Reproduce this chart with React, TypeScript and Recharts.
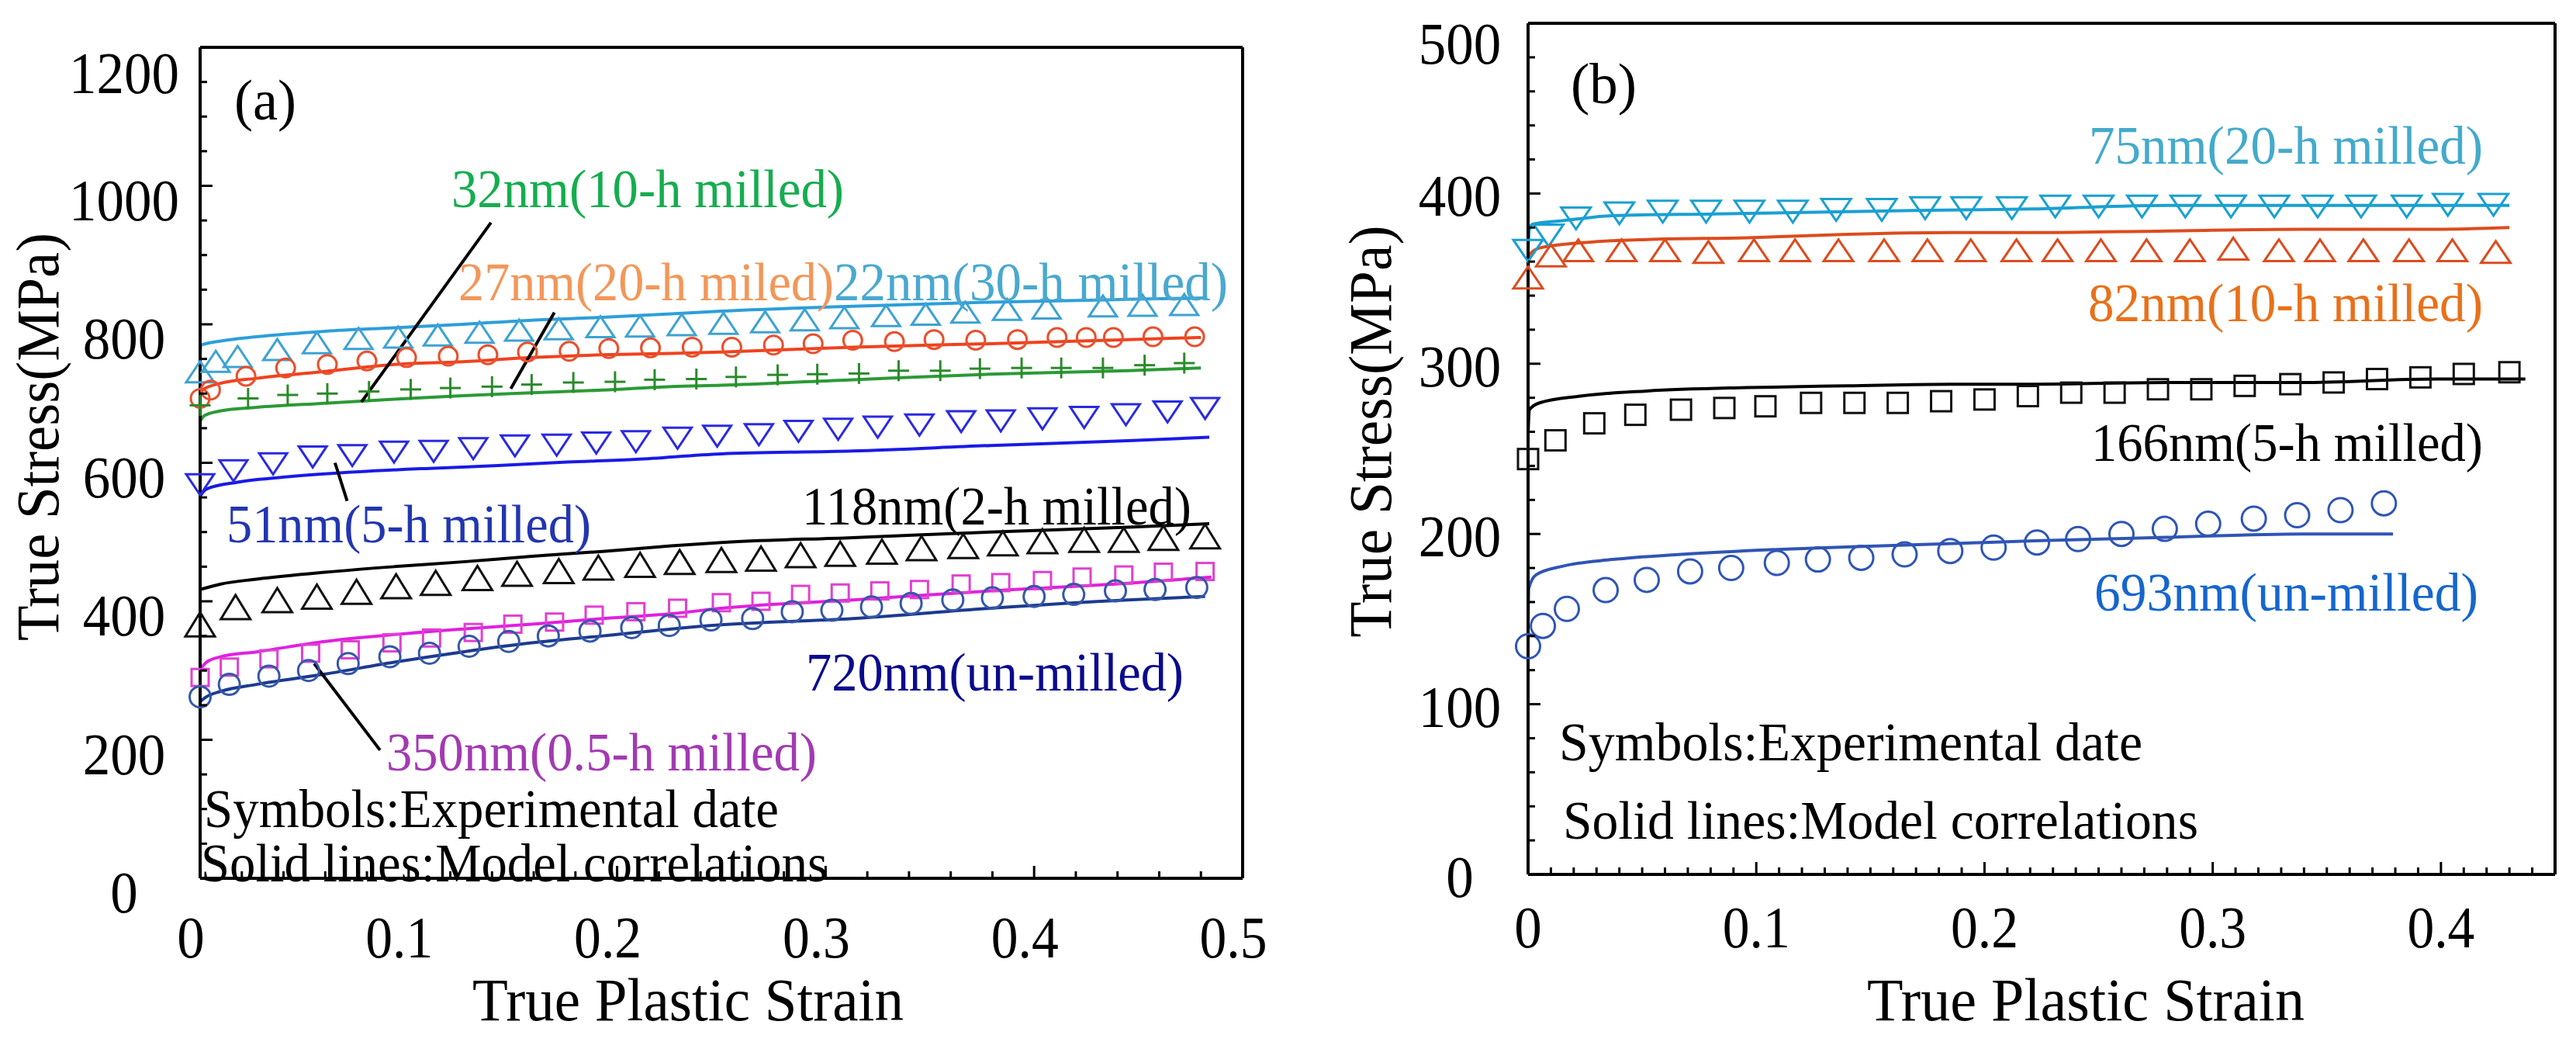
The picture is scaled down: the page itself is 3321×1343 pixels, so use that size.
import React from "react";
import { ComposedChart, Line, Scatter, XAxis, YAxis, ReferenceLine } from "recharts";

type Pt = [number, number];

// ---- panel (a): strain, stress(MPa) ----
const A22_EXP: Pt[] = [[0,730],[0.0075,745],[0.018,752],[0.037,762],[0.056,772],[0.076,778],[0.095,780],[0.114,783],[0.134,787],[0.153,790],[0.172,792],[0.192,795],[0.211,796],[0.231,798],[0.251,800],[0.271,802],[0.29,805],[0.309,808],[0.329,811],[0.348,813],[0.367,816],[0.387,820],[0.406,822],[0.433,825],[0.452,826],[0.472,827]];
const A22_FIT: Pt[] = [[0,760],[0.0005,770],[0.01,776],[0.027,782],[0.06,790],[0.093,795],[0.126,800],[0.159,806],[0.193,810],[0.226,815],[0.25,819],[0.313,826],[0.379,832],[0.445,836],[0.483,838]];
const A27_EXP: Pt[] = [[0,693],[0.005,705],[0.022,725],[0.041,737],[0.061,742],[0.08,747],[0.099,752],[0.119,754],[0.138,756],[0.157,760],[0.177,761],[0.196,765],[0.216,766],[0.236,767],[0.255,767],[0.275,770],[0.294,772],[0.313,777],[0.333,775],[0.352,778],[0.372,777],[0.392,778],[0.411,781],[0.425,781],[0.438,781],[0.457,782],[0.477,782]];
const A27_FIT: Pt[] = [[0,695],[0.001,705],[0.01,715],[0.027,722],[0.06,732],[0.093,742],[0.126,746],[0.159,752],[0.193,756],[0.226,758],[0.25,760],[0.313,767],[0.379,772],[0.445,778],[0.48,781]];
const A32_EXP: Pt[] = [[0,683],[0.023,693],[0.042,698],[0.061,700],[0.081,703],[0.101,706],[0.12,708],[0.14,710],[0.159,713],[0.179,716],[0.199,717],[0.218,720],[0.238,721],[0.257,724],[0.277,727],[0.296,728],[0.316,729],[0.335,733],[0.355,733],[0.374,736],[0.394,737],[0.413,737],[0.433,737],[0.453,741],[0.472,744]];
const A32_FIT: Pt[] = [[0,660],[0.002,668],[0.01,675],[0.027,680],[0.06,686],[0.093,692],[0.126,697],[0.159,701],[0.193,705],[0.226,710],[0.25,712],[0.313,720],[0.379,728],[0.445,733],[0.48,737]];
const A51_EXP: Pt[] = [[0,570],[0.016,590],[0.035,600],[0.054,610],[0.073,612],[0.093,617],[0.112,618],[0.131,622],[0.151,626],[0.171,627],[0.19,630],[0.209,632],[0.229,637],[0.248,640],[0.268,642],[0.287,647],[0.306,650],[0.325,653],[0.345,656],[0.365,661],[0.384,662],[0.404,665],[0.424,667],[0.444,671],[0.464,675],[0.482,680]];
const A51_FIT: Pt[] = [[0,552],[0.003,562],[0.018,572],[0.043,580],[0.076,587],[0.11,592],[0.143,596],[0.176,601],[0.209,605],[0.25,613],[0.313,617],[0.379,625],[0.445,632],[0.484,637]];
const A118_EXP: Pt[] = [[0,365],[0.017,390],[0.037,400],[0.056,405],[0.075,412],[0.094,420],[0.113,425],[0.133,432],[0.152,438],[0.172,442],[0.191,447],[0.211,451],[0.23,455],[0.25,458],[0.269,460],[0.288,465],[0.307,467],[0.327,470],[0.346,475],[0.366,478],[0.385,482],[0.404,485],[0.424,487],[0.443,487],[0.462,490],[0.482,492]];
const A118_FIT: Pt[] = [[0,417],[0.01,425],[0.027,432],[0.06,442],[0.093,450],[0.126,457],[0.159,465],[0.193,472],[0.226,480],[0.25,485],[0.313,492],[0.379,500],[0.445,507],[0.484,512]];
const A350_EXP: Pt[] = [[0,290],[0.014,305],[0.033,317],[0.053,325],[0.072,330],[0.092,340],[0.111,347],[0.131,355],[0.15,367],[0.17,370],[0.189,380],[0.209,385],[0.229,390],[0.25,398],[0.269,400],[0.288,410],[0.307,412],[0.326,415],[0.345,417],[0.365,425],[0.384,427],[0.404,430],[0.423,435],[0.443,438],[0.462,442],[0.482,443]];
const A350_FIT: Pt[] = [[0,302],[0.003,312],[0.01,320],[0.027,327],[0.06,342],[0.093,352],[0.126,360],[0.159,367],[0.193,375],[0.226,382],[0.25,390],[0.313,402],[0.379,415],[0.445,426],[0.485,435]];
const A720_EXP: Pt[] = [[0,262],[0.014,280],[0.033,292],[0.052,300],[0.071,310],[0.091,320],[0.11,325],[0.129,335],[0.148,342],[0.167,350],[0.187,357],[0.207,362],[0.225,365],[0.245,373],[0.265,375],[0.284,385],[0.303,387],[0.322,392],[0.341,397],[0.361,402],[0.38,405],[0.4,407],[0.419,410],[0.439,415],[0.458,417],[0.478,420]];
const A720_FIT: Pt[] = [[0,255],[0.003,262],[0.01,270],[0.027,280],[0.06,295],[0.093,312],[0.126,327],[0.159,340],[0.193,350],[0.226,360],[0.25,366],[0.313,375],[0.379,390],[0.445,402],[0.482,407]];

// ---- panel (b) ----
const B75_EXP: Pt[] = [[0,367],[0.009,376],[0.021,386],[0.04,389],[0.059,390],[0.078,390],[0.097,390],[0.116,390],[0.135,391],[0.155,391],[0.174,392],[0.192,392],[0.212,392],[0.231,393],[0.25,393],[0.269,393],[0.288,393],[0.308,393],[0.327,393],[0.346,393],[0.365,393],[0.385,393],[0.403,394],[0.423,394]];
const B75_FIT: Pt[] = [[0,367],[0.0006,379],[0.002,382],[0.015,384],[0.037,387],[0.082,388],[0.126,389],[0.17,390],[0.222,391],[0.28,393],[0.339,393],[0.398,393],[0.43,393]];
const B82_EXP: Pt[] = [[0,350],[0.01,363],[0.022,366],[0.041,366],[0.06,366],[0.079,365],[0.099,366],[0.117,366],[0.136,366],[0.156,366],[0.175,366],[0.194,366],[0.214,366],[0.232,366],[0.251,366],[0.271,366],[0.29,366],[0.309,367],[0.329,366],[0.347,366],[0.366,366],[0.386,366],[0.405,366],[0.424,365]];
const B82_FIT: Pt[] = [[0,356],[0.0006,364],[0.005,368],[0.023,371],[0.052,373],[0.096,374],[0.14,376],[0.185,377],[0.222,377],[0.28,378],[0.339,379],[0.398,379],[0.43,380]];
const B166_EXP: Pt[] = [[0,244],[0.012,255],[0.029,265],[0.047,270],[0.067,273],[0.086,274],[0.104,275],[0.124,277],[0.143,277],[0.162,277],[0.181,278],[0.2,279],[0.219,281],[0.238,283],[0.257,283],[0.276,285],[0.295,285],[0.314,287],[0.334,288],[0.353,289],[0.372,291],[0.391,292],[0.41,294],[0.43,295]];
const B166_FIT: Pt[] = [[0,259],[0.0006,273],[0.005,277],[0.023,281],[0.052,284],[0.096,286],[0.14,287],[0.185,288],[0.222,288],[0.28,289],[0.339,289],[0.398,291],[0.437,291]];
const B693_EXP: Pt[] = [[0,134],[0.0065,146],[0.017,156],[0.034,167],[0.052,173],[0.071,178],[0.089,180],[0.109,183],[0.127,185],[0.146,186],[0.165,188],[0.185,190],[0.204,192],[0.223,195],[0.241,197],[0.26,200],[0.279,203],[0.298,206],[0.318,209],[0.337,211],[0.356,214],[0.375,218]];
const B693_FIT: Pt[] = [[0,145],[0.0003,168],[0.0035,176],[0.015,181],[0.037,185],[0.067,188],[0.111,191],[0.155,193],[0.2,195],[0.222,196],[0.28,198],[0.339,200],[0.379,200]];

// axis ticks
const A_X_MAJOR = [0, 0.1, 0.2, 0.3, 0.4, 0.5];
const A_Y_MAJOR = [0, 200, 400, 600, 800, 1000, 1200];
const B_X_MAJOR = [0, 0.1, 0.2, 0.3, 0.4];
const B_Y_MAJOR = [0, 100, 200, 300, 400, 500];

const steps = (from: number, to: number, step: number) => {
  const out: number[] = [];
  for (let i = 0; from + i * step <= to + 1e-9; i++) out.push(Math.round((from + i * step) * 1e6) / 1e6);
  return out;
};
const A_X_TICKS = steps(0, 0.5, 0.02);
const A_Y_TICKS = steps(0, 1200, 50);
const B_X_TICKS = steps(0, 0.45, 0.01);
const B_Y_TICKS = steps(0, 500, 20);

const FONT = "'Liberation Serif', 'Times New Roman', serif";

type Kind = "up" | "down" | "circle" | "square" | "plus";
interface Series {
  exp: Pt[];
  fit: Pt[];
  line: string;
  mark: string;
  kind: Kind;
  w: number;
  h: number;
}

const SERIES_A: Series[] = [
  { exp: A22_EXP, fit: A22_FIT, line: "#2c9fda", mark: "#3da2d2", kind: "up", w: 36, h: 27 },
  { exp: A27_EXP, fit: A27_FIT, line: "#f0421e", mark: "#e8502e", kind: "circle", w: 24, h: 24 },
  { exp: A32_EXP, fit: A32_FIT, line: "#2b9a36", mark: "#2b8a2b", kind: "plus", w: 27, h: 27 },
  { exp: A51_EXP, fit: A51_FIT, line: "#1a1ae6", mark: "#2a2ae0", kind: "down", w: 36, h: 27 },
  { exp: A118_EXP, fit: A118_FIT, line: "#000000", mark: "#111111", kind: "up", w: 38, h: 31 },
  { exp: A350_EXP, fit: A350_FIT, line: "#e020e0", mark: "#e040d0", kind: "square", w: 22, h: 22 },
  { exp: A720_EXP, fit: A720_FIT, line: "#1c3a8f", mark: "#3557a8", kind: "circle", w: 27, h: 27 },
];

const SERIES_B: Series[] = [
  { exp: B75_EXP, fit: B75_FIT, line: "#1aa0d2", mark: "#1aa0d2", kind: "down", w: 38, h: 28 },
  { exp: B82_EXP, fit: B82_FIT, line: "#dc4c1e", mark: "#dc4c1e", kind: "up", w: 38, h: 28 },
  { exp: B166_EXP, fit: B166_FIT, line: "#000000", mark: "#111111", kind: "square", w: 26, h: 26 },
  { exp: B693_EXP, fit: B693_FIT, line: "#2f55b5", mark: "#2f55b5", kind: "circle", w: 31, h: 31 },
];

const toXY = (pts: Pt[]) => pts.map(([x, y]) => ({ x, y }));

function Marker({ cx, cy, kind, color, w, h }: { cx: number; cy: number; kind: Kind; color: string; w: number; h: number }) {
  const p = { fill: "none", stroke: color, strokeWidth: 3 };
  const hw = w / 2;
  if (kind === "up")
    return <polygon {...p} points={`${cx},${cy - h * 0.55} ${cx - hw},${cy + h * 0.45} ${cx + hw},${cy + h * 0.45}`} />;
  if (kind === "down")
    return <polygon {...p} points={`${cx},${cy + h * 0.55} ${cx - hw},${cy - h * 0.45} ${cx + hw},${cy - h * 0.45}`} />;
  if (kind === "circle") return <circle {...p} cx={cx} cy={cy} r={hw} />;
  if (kind === "square") return <rect {...p} x={cx - hw} y={cy - h / 2} width={w} height={h} />;
  return (
    <g {...p}>
      <line x1={cx - hw} y1={cy} x2={cx + hw} y2={cy} />
      <line x1={cx} y1={cy - hw} x2={cx} y2={cy + hw} />
    </g>
  );
}

const labelWidth = (s: string) => s.split("").reduce((t, c) => t + (c === "." ? 16 : 35.5), 0);

type Side = "left" | "right" | "top" | "bottom";
function axisTick(
  side: Side,
  majors: number[],
  labels: boolean,
  dx: number,
  dy: number,
  fmt: (v: number) => string,
  topDy = dy,
) {
  const topValue = majors[majors.length - 1];
  return (props: any) => {
    const { x, y, payload } = props;
    const v = payload.value as number;
    const major = majors.some((m) => Math.abs(m - v) < 1e-6);
    const len = major ? 16 : 9;
    const x2 = side === "left" ? x + len : side === "right" ? x - len : x;
    const y2 = side === "top" ? y + len : side === "bottom" ? y - len : y;
    const text = fmt(v);
    const ly = y + (side === "left" && Math.abs(v - topValue) < 1e-6 ? topDy : dy);
    return (
      <g>
        <line x1={x} y1={y} x2={x2} y2={y2} stroke="#000" strokeWidth={3} />
        {labels && major && (
          <text
            x={x + dx}
            y={ly}
            textAnchor="middle"
            dominantBaseline="central"
            fontSize={77}
            fontFamily={FONT}
            fill="#000"
            textLength={labelWidth(text)}
            lengthAdjust="spacingAndGlyphs"
          >
            {text}
          </text>
        )}
      </g>
    );
  };
}

const fmtX = (v: number) => (v === 0 ? "0" : v.toFixed(1));
const fmtY = (v: number) => String(v);
const none = () => "";

interface PanelProps {
  series: Series[];
  width: number;
  height: number;
  plot: { left: number; right: number; top: number; bottom: number };
  xDomain: [number, number];
  yDomain: [number, number];
  xTicks: number[];
  yTicks: number[];
  xMajor: number[];
  yMajor: number[];
  xLabel: [number, number];
  yLabel: [number, number, number];
  pointers: { from: Pt; to: Pt }[];
}

function Panel(p: PanelProps) {
  const axisLine = { stroke: "#000", strokeWidth: 4 };
  return (
    <ComposedChart width={p.width} height={p.height} margin={{ top: 0, right: 0, bottom: 0, left: 0 }}>
      <XAxis
        xAxisId={0}
        dataKey="x"
        type="number"
        domain={p.xDomain}
        ticks={p.xTicks}
        interval={0}
        height={p.height - p.plot.bottom}
        axisLine={axisLine}
        tickLine={false}
        tickSize={0}
        tickMargin={0}
        tick={axisTick("bottom", p.xMajor, true, p.xLabel[0], p.xLabel[1], fmtX)}
      />
      <XAxis
        xAxisId="top"
        orientation="top"
        type="number"
        domain={p.xDomain}
        ticks={p.xTicks}
        interval={0}
        height={p.plot.top}
        axisLine={axisLine}
        tickLine={false}
        tickSize={0}
        tickMargin={0}
        tick={axisTick("top", p.xMajor, false, 0, 0, none)}
      />
      <YAxis
        yAxisId={0}
        dataKey="y"
        type="number"
        domain={p.yDomain}
        ticks={p.yTicks}
        interval={0}
        width={p.plot.left}
        axisLine={axisLine}
        tickLine={false}
        tickSize={0}
        tickMargin={0}
        tick={axisTick("left", p.yMajor, true, p.yLabel[0], p.yLabel[1], fmtY, p.yLabel[2])}
      />
      <YAxis
        yAxisId="right"
        orientation="right"
        type="number"
        domain={p.yDomain}
        ticks={p.yTicks}
        interval={0}
        width={p.width - p.plot.right}
        axisLine={axisLine}
        tickLine={false}
        tickSize={0}
        tickMargin={0}
        tick={axisTick("right", p.yMajor, false, 0, 0, none)}
      />
      {p.series.map((s, i) => (
        <Scatter
          key={`e${i}`}
          data={toXY(s.exp)}
          dataKey="y"
          isAnimationActive={false}
          shape={(props: any) => <Marker cx={props.cx} cy={props.cy} kind={s.kind} color={s.mark} w={s.w} h={s.h} />}
        />
      ))}
      {p.series.map((s, i) => (
        <Line
          key={`f${i}`}
          data={toXY(s.fit)}
          dataKey="y"
          type="monotone"
          stroke={s.line}
          strokeWidth={4}
          dot={false}
          activeDot={false}
          isAnimationActive={false}
        />
      ))}
      {p.pointers.map((ptr, i) => (
        <ReferenceLine
          key={`p${i}`}
          segment={[
            { x: ptr.from[0], y: ptr.from[1] },
            { x: ptr.to[0], y: ptr.to[1] },
          ]}
          stroke="#000"
          strokeWidth={4}
          ifOverflow="visible"
        />
      ))}
    </ComposedChart>
  );
}

const POINTERS_A = [
  { from: [0.1395, 947] as Pt, to: [0.0774, 688] as Pt },
  { from: [0.1699, 817] as Pt, to: [0.149, 707] as Pt },
  { from: [0.0647, 600] as Pt, to: [0.0705, 545] as Pt },
  { from: [0.0547, 310] as Pt, to: [0.0863, 185] as Pt },
];

// text annotations: [text, x, yCenter, width, color, fontSize]
type Note = [string, number, number, number, string, number];
const NOTES: Note[] = [
  ["(a)", 302, 128, 80, "#000", 75],
  ["32nm(10-h milled)", 582, 244, 506, "#15ad4f", 69],
  ["27nm(20-h miled)", 591, 364, 484, "#f2975a", 69],
  ["22nm(30-h milled)", 1075, 364, 508, "#4aa8cf", 69],
  ["51nm(5-h milled)", 292, 676, 470, "#2236b0", 69],
  ["118nm(2-h milled)", 1034, 653, 502, "#000", 69],
  ["720nm(un-milled)", 1039, 867, 487, "#0a0a8e", 69],
  ["350nm(0.5-h milled)", 498, 970, 555, "#a23ab2", 69],
  ["Symbols:Experimental date", 263, 1043, 741, "#000", 69],
  ["Solid lines:Model correlations", 259, 1113, 808, "#000", 69],
  ["(b)", 2025, 107, 85, "#000", 75],
  ["75nm(20-h milled)", 2693, 188, 508, "#44aacb", 69],
  ["82nm(10-h milled)", 2692, 391, 509, "#e8711a", 69],
  ["166nm(5-h milled)", 2696, 571, 505, "#000", 69],
  ["693nm(un-milled)", 2700, 764, 495, "#1666cc", 69],
  ["Symbols:Experimental date", 2010, 957, 752, "#000", 69],
  ["Solid lines:Model correlations", 2015, 1058, 819, "#000", 69],
];

// axis titles: [text, cx, cy, length, rotated]
type Title = [string, number, number, number, boolean];
const TITLES: Title[] = [
  ["True Plastic Strain", 887, 1288, 556, false],
  ["True Stress(MPa)", 48, 563, 526, true],
  ["True Plastic Strain", 2689, 1288, 564, false],
  ["True Stress(MPa)", 1766, 556, 531, true],
];

export default function App() {
  return (
    <div style={{ position: "absolute", left: 0, top: 0, width: 3321, height: 1343, background: "#fff" }}>
      <div style={{ position: "absolute", left: 0, top: 0 }}>
        <Panel
          series={SERIES_A}
          width={1660}
          height={1343}
          plot={{ left: 258, right: 1602, top: 61, bottom: 1132 }}
          xDomain={[0, 0.5]}
          yDomain={[0, 1200]}
          xTicks={A_X_TICKS}
          yTicks={A_Y_TICKS}
          xMajor={A_X_MAJOR}
          yMajor={A_Y_MAJOR}
          xLabel={[-12, 76]}
          yLabel={[-98, 18, 33]}
          pointers={POINTERS_A}
        />
      </div>
      <div style={{ position: "absolute", left: 1660, top: 0 }}>
        <Panel
          series={SERIES_B}
          width={1661}
          height={1343}
          plot={{ left: 310, right: 1634, top: 30, bottom: 1127 }}
          xDomain={[0, 0.45]}
          yDomain={[0, 500]}
          xTicks={B_X_TICKS}
          yTicks={B_Y_TICKS}
          xMajor={B_X_MAJOR}
          yMajor={B_Y_MAJOR}
          xLabel={[0, 68]}
          yLabel={[-88, 3, 26]}
          pointers={[]}
        />
      </div>
      <svg
        width={3321}
        height={1343}
        style={{ position: "absolute", left: 0, top: 0, pointerEvents: "none" }}
        fontFamily={FONT}
      >
        {NOTES.map(([t, x, y, w, c, fs], i) => (
          <text
            key={i}
            x={x}
            y={y}
            fill={c}
            fontSize={fs}
            dominantBaseline="central"
            textLength={w}
            lengthAdjust="spacingAndGlyphs"
          >
            {t}
          </text>
        ))}
        {TITLES.map(([t, cx, cy, len, rot], i) => (
          <text
            key={`t${i}`}
            x={cx}
            y={cy}
            fill="#000"
            fontSize={78}
            textAnchor="middle"
            dominantBaseline="central"
            textLength={len}
            lengthAdjust="spacingAndGlyphs"
            transform={rot ? `rotate(-90 ${cx} ${cy})` : undefined}
          >
            {t}
          </text>
        ))}
      </svg>
    </div>
  );
}
